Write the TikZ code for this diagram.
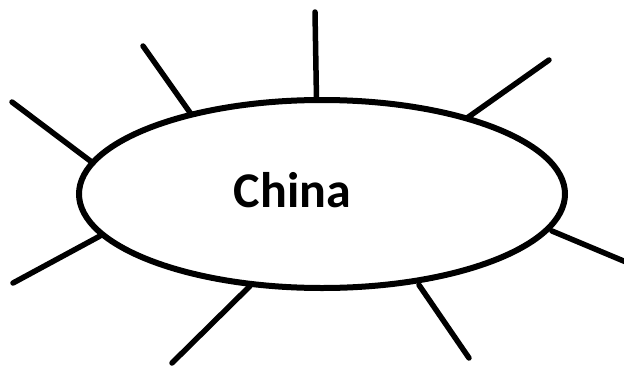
\documentclass[tikz,border=0pt]{standalone}
\usepackage{fontspec}
\setmainfont{Carlito}
\tikzset{
  spoke/.style={line width=5.5pt, line cap=round},
  rim/.style={line width=6pt}
}
\begin{document}
\begin{tikzpicture}[x=1pt,y=-1pt]
\useasboundingbox (0,0) rectangle (624,367);
\draw[rim] (322,194) ellipse [x radius=243, y radius=94];
\node[anchor=base, inner sep=0pt, font=\fontsize{50}{60}\selectfont\bfseries] (t) at (292.5,207) {China};
\coordinate (a1) at (315,12);  \coordinate (b1) at (316.5,100);
\coordinate (a2) at (143,46);  \coordinate (b2) at (191,114);
\coordinate (a3) at (12,102);  \coordinate (b3) at (93,163);
\coordinate (a4) at (13,283);  \coordinate (b4) at (100,236);
\coordinate (a5) at (172,363); \coordinate (b5) at (250,286);
\coordinate (a6) at (469,358); \coordinate (b6) at (419,285);
\coordinate (a7) at (626,262); \coordinate (b7) at (552,231);
\coordinate (a8) at (549,60);  \coordinate (b8) at (467,118);
\foreach \i in {1,...,8} \draw[spoke] (a\i) -- (b\i);
\end{tikzpicture}
\end{document}
